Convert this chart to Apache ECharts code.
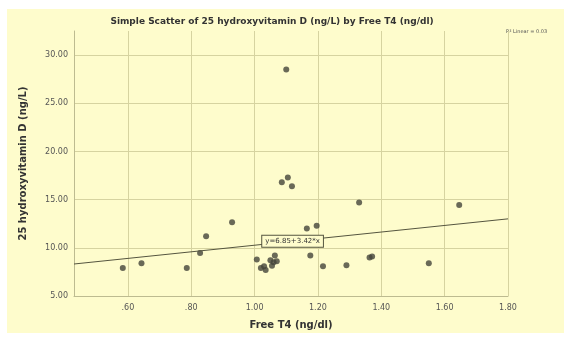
<!DOCTYPE html>
<html>
<head>
<meta charset="utf-8">
<script src="https://cdn.jsdelivr.net/npm/echarts@6/dist/echarts.min.js"></script>
<style>
  html, body { margin: 0; padding: 0; background: #fff; }
  #chart { width: 569px; height: 338px; }
</style>
</head>
<body>
<div id="chart"></div>
<script>
// Free T4 (ng/dl) vs 25 hydroxyvitamin D (ng/L)
const freeT4 = [0.584, 0.643, 0.786, 0.828, 0.847, 0.929, 1.007, 1.02, 1.03, 1.035, 1.05, 1.055, 1.06, 1.07, 1.064,
  1.086, 1.10, 1.105, 1.118, 1.165, 1.176, 1.196, 1.216, 1.29, 1.33, 1.363, 1.371, 1.55, 1.646];
const vitD = [7.9, 8.4, 7.9, 9.45, 11.2, 12.66, 8.8, 7.9, 8.1, 7.7, 8.7, 8.15, 8.5, 8.6, 9.2,
  16.8, 28.5, 17.3, 16.4, 12.0, 9.2, 12.3, 8.1, 8.2, 14.7, 9.0, 9.1, 8.4, 14.45];
const xTicks = [0.6, 0.8, 1.0, 1.2, 1.4, 1.6, 1.8];
const yTicks = [5, 10, 15, 20, 25, 30];
const fitCoef = [6.85, 3.42]; // intercept, slope
const rSquared = 0.03;

const xMin = 0.43, xMax = 1.8;
const fit = x => fitCoef[0] + fitCoef[1] * x;
const labelX = 1.12;

const fmtX = v => {
  const s = v.toFixed(2);
  return s.startsWith('0') ? s.slice(1) : s;
};

const chart = echarts.init(document.getElementById('chart'));
const gridColor = '#d6d3a0';
const inkColor = '#44443a';

chart.setOption({
  backgroundColor: '#ffffff',
  animation: false,
  textStyle: { fontFamily: 'DejaVu Sans' },
  graphic: [{
    type: 'rect',
    z: -10,
    shape: { x: 7, y: 9, width: 557, height: 324 },
    style: { fill: '#fefccc' }
  }, {
    type: 'text',
    left: 506,
    top: 29,
    style: { text: 'R² Linear = ' + rSquared.toFixed(3).replace(/0$/, ''), fontSize: 5, fill: '#555', fontFamily: 'DejaVu Sans' }
  }],
  title: {
    text: 'Simple Scatter of 25 hydroxyvitamin D (ng/L) by Free T4 (ng/dl)',
    left: 267,
    textAlign: 'center',
    top: 12,
    textStyle: { fontSize: 9, fontWeight: 'bold', color: '#333', fontFamily: 'DejaVu Sans' }
  },
  grid: { left: 74, right: 61, top: 31, bottom: 42 },
  xAxis: {
    type: 'value',
    min: xMin,
    max: xMax,
    name: 'Free T4 (ng/dl)',
    nameLocation: 'middle',
    nameGap: 24,
    nameTextStyle: { fontSize: 10, fontWeight: 'bold', color: '#333' },
    axisLine: { show: true, lineStyle: { color: '#bdbb90' } },
    axisTick: { show: false, customValues: xTicks },
    axisLabel: { customValues: xTicks, formatter: fmtX, fontSize: 8, color: '#555', margin: 8 },
    splitLine: { show: true, lineStyle: { color: gridColor, width: 1 } }
  },
  yAxis: {
    type: 'value',
    min: 5,
    max: 32.5,
    name: '25 hydroxyvitamin D (ng/L)',
    nameLocation: 'middle',
    nameGap: 46,
    nameTextStyle: { fontSize: 10, fontWeight: 'bold', color: '#333' },
    axisLine: { show: true, lineStyle: { color: '#bdbb90' } },
    axisTick: { show: false, customValues: yTicks },
    axisLabel: { customValues: yTicks, formatter: v => v.toFixed(2), fontSize: 8, color: '#555', margin: 6 },
    splitLine: { show: true, lineStyle: { color: gridColor, width: 1 } }
  },
  series: [{
    type: 'scatter',
    symbol: 'circle',
    symbolSize: 6,
    itemStyle: { color: inkColor },
    data: freeT4.map((x, i) => [x, vitD[i]])
  }, {
    type: 'line',
    symbol: 'none',
    lineStyle: { color: '#55553f', width: 1 },
    data: [[xMin, fit(xMin)], [xMax, fit(xMax)]],
    markPoint: {
      symbol: 'rect',
      symbolSize: 0,
      data: [{ coord: [labelX, fit(labelX)] }],
      label: {
        show: true,
        position: 'inside',
        formatter: 'y=' + fitCoef[0].toFixed(2) + '+' + fitCoef[1].toFixed(2) + '*x',
        fontSize: 7,
        color: '#333',
        backgroundColor: '#fefccc',
        borderColor: '#55553f',
        borderWidth: 1,
        padding: [2, 3]
      }
    }
  }]
});
</script>
</body>
</html>
